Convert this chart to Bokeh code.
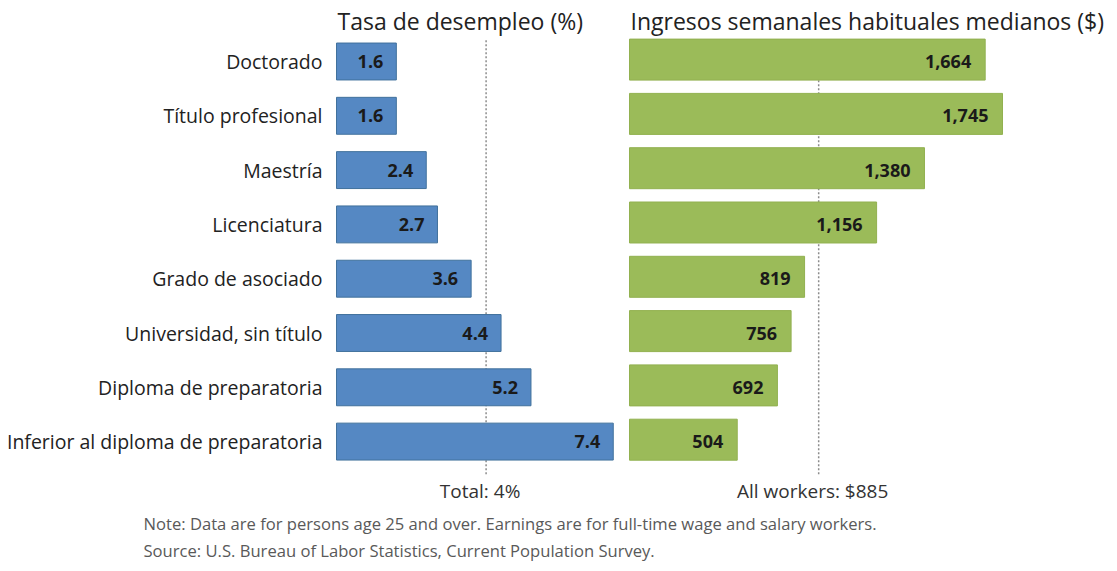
from bokeh.plotting import figure
from bokeh.models import Range1d, ColumnDataSource
from bokeh.core.properties import value
from bokeh.embed import file_html
from bokeh.resources import INLINE

# ---- data ----
categories = ["Doctorado", "Título profesional", "Maestría", "Licenciatura",
              "Grado de asociado", "Universidad, sin título",
              "Diploma de preparatoria", "Inferior al diploma de preparatoria"]
unemployment = [1.6, 1.6, 2.4, 2.7, 3.6, 4.4, 5.2, 7.4]
earnings = [1664, 1745, 1380, 1156, 819, 756, 692, 504]
total_rate = 4
all_workers = 885
title_left = "Tasa de desempleo (%)"
title_right = "Ingresos semanales habituales medianos ($)"
total_label = "Total: 4%"
workers_label = "All workers: $885"
notes = ["Note: Data are for persons age 25 and over. Earnings are for full-time wage and salary workers.",
         "Source: U.S. Bureau of Labor Statistics, Current Population Survey."]

W, H = 1117, 571
rows = list(range(len(categories)))

# layout scales
row_px = 54.3
row0_px = 61
left0_px, left_ppu = 336, 37.4
right0_px, right_ppu = 629, 373 / 1745

y_top = -row0_px / row_px
y_bot = y_top + H / row_px

p = figure(width=W, height=H, output_backend="svg", toolbar_location=None,
           x_range=Range1d(-left0_px / left_ppu, (W - left0_px) / left_ppu),
           y_range=Range1d(y_bot, y_top),
           x_axis_location=None, y_axis_location=None)
p.extra_x_ranges = {"earn": Range1d(-right0_px / right_ppu, (W - right0_px) / right_ppu)}
p.min_border = 0
p.min_border_left = 0
p.min_border_right = 0
p.min_border_top = 0
p.min_border_bottom = 0
p.outline_line_color = None
p.xgrid.visible = False
p.ygrid.visible = False
p.background_fill_color = "white"
p.border_fill_color = "white"

src = ColumnDataSource(dict(
    row=rows,
    row_g=[r - 0.035 for r in rows],
    cat=categories,
    unemp=unemployment,
    earn=earnings,
    unemp_lbl=[f"{v:.1f}" for v in unemployment],
    earn_lbl=[f"{v:,}" for v in earnings],
    zero=[0] * len(rows),
))

# reference lines
p.segment(x0=[total_rate], x1=[total_rate], y0=[-0.39], y1=[7.62],
          line_color="#8c8c8c", line_width=1.5, line_dash="2 2")
p.segment(x0=[all_workers], x1=[all_workers], y0=[-0.39], y1=[7.62],
          line_color="#8c8c8c", line_width=1.5, line_dash="2 2", x_range_name="earn")

# bars
p.hbar(y="row", left="zero", right="unemp", height=0.68, source=src,
       fill_color="#5588C3", line_color="#41719C", line_width=1)
p.hbar(y="row_g", left="zero", right="earn", height=0.755, source=src,
       fill_color="#9BBB59", line_color="#92B150", line_width=1, x_range_name="earn")

# bar value labels
p.text(x="unemp", y="row", text="unemp_lbl", source=src, x_offset=-13,
       text_align="right", text_baseline="middle", text_font=value("Open Sans"),
       text_font_style="bold", text_font_size="18px", text_color="#1a1a1a")
p.text(x="earn", y="row", text="earn_lbl", source=src, x_offset=-14, x_range_name="earn",
       text_align="right", text_baseline="middle", text_font=value("Open Sans"),
       text_font_style="bold", text_font_size="18px", text_color="#1a1a1a")

# category labels
p.text(x="zero", y="row", text="cat", source=src, x_offset=-14,
       text_align="right", text_baseline="middle", text_font=value("Open Sans"),
       text_font_size="19.5px", text_color="#222222")

# panel titles
p.text(x=[0], y=[0], text=[title_left], y_offset=-41, x_offset=1,
       text_align="left", text_baseline="middle", text_font=value("Open Sans"),
       text_font_size="23px", text_color="#222222")
p.text(x=[0], y=[0], text=[title_right], y_offset=-41, x_offset=1, x_range_name="earn",
       text_align="left", text_baseline="middle", text_font=value("Open Sans"),
       text_font_size="23px", text_color="#222222")

# reference line labels
last = rows[-1]
p.text(x=[total_rate], y=[last], text=[total_label], y_offset=49, x_offset=-6,
       text_align="center", text_baseline="middle", text_font=value("Open Sans"),
       text_font_size="19px", text_color="#333333")
p.text(x=[all_workers], y=[last], text=[workers_label], y_offset=49, x_offset=-6,
       x_range_name="earn",
       text_align="center", text_baseline="middle", text_font=value("Open Sans"),
       text_font_size="19px", text_color="#333333")

# notes
p.text(x=[0, 0], y=[last, last], text=notes, y_offset=[82, 109], x_offset=-193,
       text_align="left", text_baseline="middle", text_font=value("Open Sans"),
       text_font_size="16.6px", text_color="#595959")

open("out.html", "w").write(file_html(p, INLINE))
